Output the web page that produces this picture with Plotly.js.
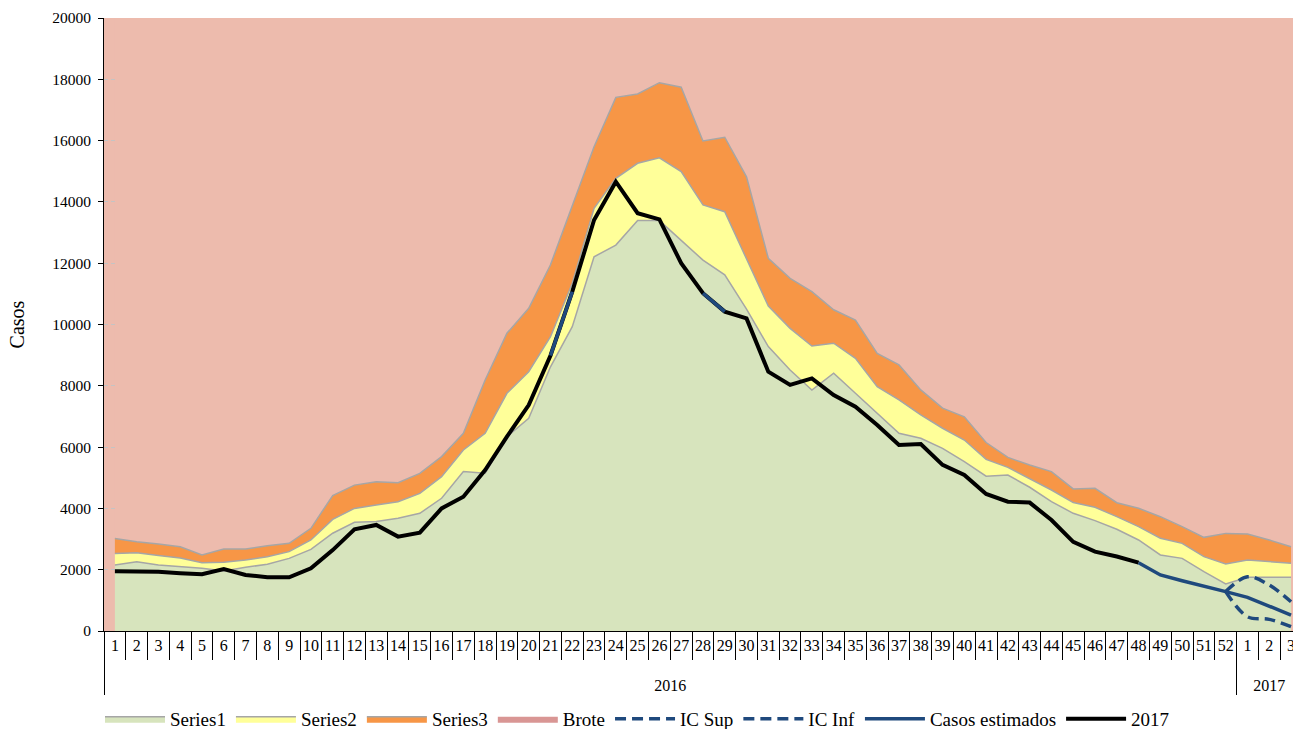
<!DOCTYPE html>
<html><head><meta charset="utf-8">
<script src="https://cdn.plot.ly/plotly-3.0.1.min.js"></script>
<style>html,body{margin:0;padding:0;background:#fff}#chart{width:1293px;height:729px}</style>
</head><body><div id="chart"></div>
<script>
// Category levels
const years = ['2016','2016','2016','2016','2016','2016','2016','2016','2016','2016',
  '2016','2016','2016','2016','2016','2016','2016','2016','2016','2016',
  '2016','2016','2016','2016','2016','2016','2016','2016','2016','2016',
  '2016','2016','2016','2016','2016','2016','2016','2016','2016','2016',
  '2016','2016','2016','2016','2016','2016','2016','2016','2016','2016',
  '2016','2016','2017','2017','2017'];
const weeks = ['1','2','3','4','5','6','7','8','9','10','11','12','13','14','15','16','17','18','19','20',
  '21','22','23','24','25','26','27','28','29','30','31','32','33','34','35','36','37','38','39','40',
  '41','42','43','44','45','46','47','48','49','50','51','52','1','2','3'];

// Stacked area series (values per week)
const series1 = [2150,2260,2150,2100,2045,1960,2080,2175,2370,2665,
  3190,3545,3570,3680,3840,4330,5200,5145,6340,6940,
  8620,9930,12210,12590,13390,13390,12760,12100,11620,10500,
  9280,8515,7860,8410,7755,7100,6450,6290,5960,5525,
  5050,5090,4690,4220,3840,3600,3320,2970,2480,2370,
  1935,1535,1750,1750,1750];
const series2 = [380,295,310,280,185,280,235,250,220,305,
  450,455,540,540,650,705,705,1305,1415,1520,
  980,1415,1580,2180,1870,2050,2230,1800,2060,1650,
  1320,1360,1440,980,1140,870,1090,760,655,705,
  550,250,290,380,350,435,410,435,545,490,
  490,650,565,510,460];
const series3 = [490,360,380,370,250,435,360,360,270,380,
  780,760,760,620,650,655,545,1740,1960,2070,
  2350,2500,2010,2640,2260,2450,2750,2090,2430,2670,
  1560,1630,1770,1090,1250,1090,1140,815,655,760,
  550,325,435,600,445,620,455,600,705,545,
  630,1000,850,710,540];
const brote = [18000,18000,18000,18000,18000,18000,18000,18000,18000,18000,
  18000,18000,18000,18000,18000,18000,18000,18000,18000,18000,
  18000,18000,18000,18000,18000,18000,18000,18000,18000,18000,
  18000,18000,18000,18000,18000,18000,18000,18000,18000,18000,
  18000,18000,18000,18000,18000,18000,18000,18000,18000,18000,
  18000,18000,18000,18000,18000];

// Line series
const line2017 = [1950,1940,1935,1885,1850,2020,1830,1750,1750,2045,
  2640,3320,3460,3080,3210,4000,4380,5250,6340,7370,
  8990,11070,13410,14660,13630,13430,12000,11020,10420,10200,
  8460,8030,8240,7700,7320,6720,6070,6100,5420,5090,
  4470,4220,4190,3620,2910,2590,2430,2230,null,null,
  null,null,null,null,null];
const casosEstimados = [null,null,null,null,null,null,null,null,null,null,
  null,null,null,null,null,null,null,null,null,null,
  8990,11070,null,null,null,null,null,11020,10420,null,
  null,null,null,null,null,null,null,null,null,null,
  null,null,null,null,null,null,null,2230,1830,1640,
  1470,1285,1100,795,520];
const icSup = [null,null,null,null,null,null,null,null,null,null,
  null,null,null,null,null,null,null,null,null,null,
  null,null,null,null,null,null,null,null,null,null,
  null,null,null,null,null,null,null,null,null,null,
  null,null,null,null,null,null,null,null,null,null,
  null,1285,1770,1500,955];
const icInf = [null,null,null,null,null,null,null,null,null,null,
  null,null,null,null,null,null,null,null,null,null,
  null,null,null,null,null,null,null,null,null,null,
  null,null,null,null,null,null,null,null,null,null,
  null,null,null,null,null,null,null,null,null,null,
  null,1285,465,380,140];

const X = [years, weeks];
const BG = '#EDBBAD';
const BLUE = '#1F497D';
const EDGE = '#A6A6A6';
const FONT = 'Liberation Serif, Times New Roman, serif';

// week labels keep their text; an empty second line leaves room above the year row
const alias = {};
weeks.forEach(w => { alias[w] = w + '<br>\u00a0'; });

const traces = [
  {x:X, y:series1, name:'Series1', stackgroup:'s', mode:'lines', fillcolor:'#D7E4BD',
   line:{color:EDGE, width:1.5}, legendrank:1},
  {x:X, y:series2, name:'Series2', stackgroup:'s', mode:'lines', fillcolor:'#FFFF99',
   line:{color:EDGE, width:1.5}, legendrank:2},
  {x:X, y:series3, name:'Series3', stackgroup:'s', mode:'lines', fillcolor:'#F79646',
   line:{color:EDGE, width:1.5}, legendrank:3},
  {x:X, y:brote, name:'Brote', stackgroup:'s', mode:'lines', fillcolor:BG,
   line:{color:BG, width:0}, showlegend:false, legendgroup:'brote'},
  {x:[['2016'],['1']], y:[null], name:'Brote', mode:'lines', fill:'toself', fillcolor:'#D99694',
   line:{color:'#D99694', width:0}, legendgroup:'brote', legendrank:4},
  {x:X, y:line2017, name:'2017', mode:'lines', line:{color:'#000', width:4}, legendrank:8},
  {x:X, y:casosEstimados, name:'Casos estimados', mode:'lines', line:{color:BLUE, width:3.5}, legendrank:7},
  {x:X, y:icSup, name:'IC Sup', mode:'lines', line:{color:BLUE, width:3.5, dash:'11px,6px', shape:'spline'}, legendrank:5},
  {x:X, y:icInf, name:'IC Inf', mode:'lines', line:{color:BLUE, width:3.5, dash:'11px,6px', shape:'spline'}, legendrank:6}
];

const layout = {
  width:1293, height:729,
  margin:{l:104, r:0, t:18, b:98},
  paper_bgcolor:'#ffffff', plot_bgcolor:BG,
  font:{family:FONT, size:15, color:'#000'},
  showlegend:true,
  hovermode:false,
  legend:{orientation:'h', xref:'container', x:100/1293, xanchor:'left',
    yref:'container', y:1-719/729, yanchor:'middle', font:{family:FONT, size:19}, itemwidth:60,
    traceorder:'normal', bgcolor:'rgba(0,0,0,0)'},
  xaxis:{type:'multicategory', range:[-0.5, 54.09], tickmode:'linear', tick0:0, dtick:1,
    tickangle:0, ticks:'outside', ticklen:28, tickcolor:'#000', tickwidth:1,
    showline:true, linecolor:'#000', linewidth:1, showgrid:false, zeroline:false,
    showdividers:true, dividercolor:'#000', dividerwidth:1,
    tickfont:{family:FONT, size:16}, labelalias:alias},
  yaxis:{range:[0,20000], tickmode:'linear', tick0:0, dtick:2000, tickformat:'d',
    ticks:'outside', ticklen:5,
    tickcolor:'#000', showline:true, linecolor:'#000', linewidth:1, zeroline:false,
    showgrid:true, gridcolor:'#C4C4C4', griddash:'4px,3px', gridwidth:1,
    tickfont:{family:FONT, size:15.5}, ticklabelstandoff:4,
    title:{text:'Casos', font:{family:FONT, size:20}, standoff:22}}
};

Plotly.newPlot('chart', traces, layout, {displayModeBar:false, staticPlot:true});
</script>
</body></html>
